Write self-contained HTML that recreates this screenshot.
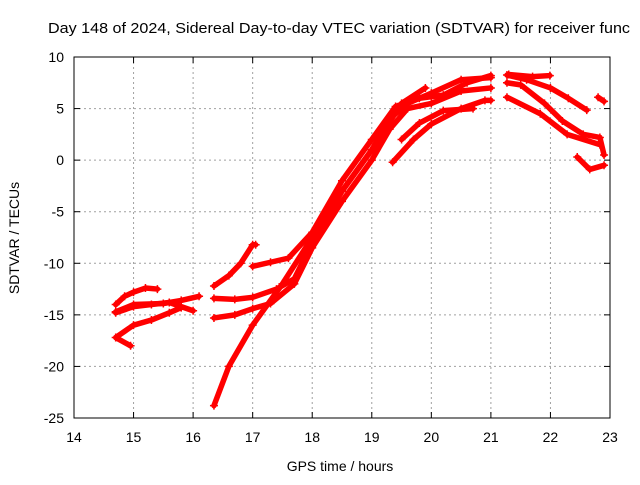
<!DOCTYPE html>
<html><head><meta charset="utf-8"><style>
body{margin:0;background:#fff}
svg{font-family:"Liberation Sans",sans-serif;font-size:14px}
</style></head><body>
<svg width="640" height="480">
<g id="grid"></g>
<g id="axes"></g>
<g id="series"></g>
<text x="48" y="33" textLength="582" lengthAdjust="spacingAndGlyphs" font-size="15">Day 148 of 2024, Sidereal Day-to-day VTEC variation (SDTVAR) for receiver func</text>
<text x="340" y="471" text-anchor="middle">GPS time / hours</text>
<text transform="translate(19,238) rotate(-90)" text-anchor="middle">SDTVAR / TECUs</text>
</svg>
<script>
const xTicks=[14,15,16,17,18,19,20,21,22,23];
const yTicks=[-25,-20,-15,-10,-5,0,5,10];
const trackA=[[14.7,-14],[14.85,-13.2],[15.0,-12.8],[15.2,-12.4],[15.4,-12.5]];
const trackB=[[14.7,-14.8],[15.0,-14.2],[15.3,-14.0],[15.6,-13.8],[15.8,-14.2],[16.0,-14.6]];
const trackC=[[14.7,-14.7],[15.0,-14.0],[15.5,-13.9],[15.8,-13.6],[16.1,-13.2]];
const trackD=[[14.95,-18],[14.7,-17.2],[15.0,-16.0],[15.3,-15.5],[15.6,-14.8],[15.8,-14.3]];
const trackE=[[16.35,-12.2],[16.6,-11.2],[16.8,-10],[17.0,-8.2],[17.05,-8.2]];
const trackF=[[17.0,-10.3],[17.3,-9.9],[17.6,-9.5],[18.0,-7],[18.5,-2],[19.0,2],[19.4,5.2],[19.8,6],[20.2,6.3],[20.6,7.5],[21.0,8.2]];
const trackG=[[16.35,-13.4],[16.7,-13.5],[17.0,-13.3],[17.4,-12.5],[17.7,-11.5],[18.0,-8],[18.5,-3],[19.0,1],[19.3,4],[19.6,5.5],[20.0,6.5],[20.5,7.8],[21.0,8]];
const trackH=[[16.35,-15.3],[16.7,-15],[17.0,-14.4],[17.3,-13.9],[17.7,-12],[18.0,-8.5],[18.5,-4],[19.0,0],[19.3,3],[19.6,5],[20.0,5.5],[20.5,6.7],[21.0,7]];
const trackI=[[16.35,-23.8],[16.6,-20],[17.0,-16],[17.5,-12],[18.0,-7.5],[18.5,-3],[19.0,1],[19.5,5.5],[19.9,7]];
const trackJ=[[19.35,-0.2],[19.7,2],[20.0,3.5],[20.5,5],[20.9,5.8],[21.0,5.8]];
const trackJ2=[[19.5,2],[19.8,3.6],[20.2,4.8],[20.7,5]];
const trackK=[[21.27,8.25],[21.6,7.8],[22.0,7.0],[22.3,6.0],[22.61,4.85]];
const trackK2=[[21.3,8.3],[21.7,8.1],[21.99,8.2]];
const trackL=[[21.27,7.5],[21.5,7.3],[21.9,5.5],[22.2,3.8],[22.55,2.5],[22.83,2.2],[22.9,0.5]];
const trackM=[[21.27,6.1],[21.83,4.5],[22.28,2.5],[22.83,1.5]];
const trackN=[[22.45,0.3],[22.66,-0.9],[22.9,-0.5]];
const trackP=[[22.8,6.1],[22.9,5.7]];
const tracks=[trackA,trackB,trackC,trackD,trackE,trackF,trackG,trackH,trackI,trackJ,trackJ2,trackK,trackK2,trackL,trackM,trackN,trackP];
const X0=74,X1=610,Y0=418,Y1=57;
const sx=t=>X0+(t-14)/9*(X1-X0);
const sy=v=>Y0-(v+25)/35*(Y0-Y1);
const NS="http://www.w3.org/2000/svg";
function mk(tag,attrs,parent){const e=document.createElementNS(NS,tag);for(const k in attrs)e.setAttribute(k,attrs[k]);parent.appendChild(e);return e;}
const grid=document.getElementById('grid'),axes=document.getElementById('axes'),ser=document.getElementById('series');
xTicks.forEach(t=>{const x=sx(t);
 if(t>14&&t<23){const l=mk('line',{x1:x,x2:x,y1:Y1,y2:Y0,stroke:'#a0a0a0','stroke-dasharray':'2,3'},grid);
 
 }
 mk('line',{x1:x,x2:x,y1:Y0,y2:Y0-6,stroke:'#000'},axes);
 mk('line',{x1:x,x2:x,y1:Y1,y2:Y1+6,stroke:'#000'},axes);
 const tx=mk('text',{x:x,y:Y0+24,'text-anchor':'middle'},axes);tx.textContent=t;
 
 });
yTicks.forEach(v=>{const y=sy(v);
 if(v>-25&&v<10){const l=mk('line',{x1:X0,x2:X1,y1:y,y2:y,stroke:'#a0a0a0','stroke-dasharray':'2,3'},grid);
 
 }
 mk('line',{x1:X0,x2:X0+6,y1:y,y2:y,stroke:'#000'},axes);
 mk('line',{x1:X1,x2:X1-6,y1:y,y2:y,stroke:'#000'},axes);
 const tx=mk('text',{x:X0-10,y:y+5,'text-anchor':'end'},axes);tx.textContent=v;
 
 });
mk('rect',{x:X0,y:Y1,width:X1-X0,height:Y0-Y1,fill:'none',stroke:'#000'},axes);
tracks.forEach(tr=>{
 const p=mk('polyline',{points:tr.map(d=>sx(d[0])+','+sy(d[1])).join(' '),fill:'none',stroke:'#f00','stroke-width':5.5,'stroke-linejoin':'round','stroke-linecap':'round'},ser);
 
 
 tr.forEach(d=>{const x=sx(d[0]),y=sy(d[1]);
  const m=mk('path',{d:`M${x-4},${y}H${x+4}M${x},${y-4}V${y+4}`,stroke:'#f00','stroke-width':1.5},ser);
  
  });
});
</script>
</body></html>
